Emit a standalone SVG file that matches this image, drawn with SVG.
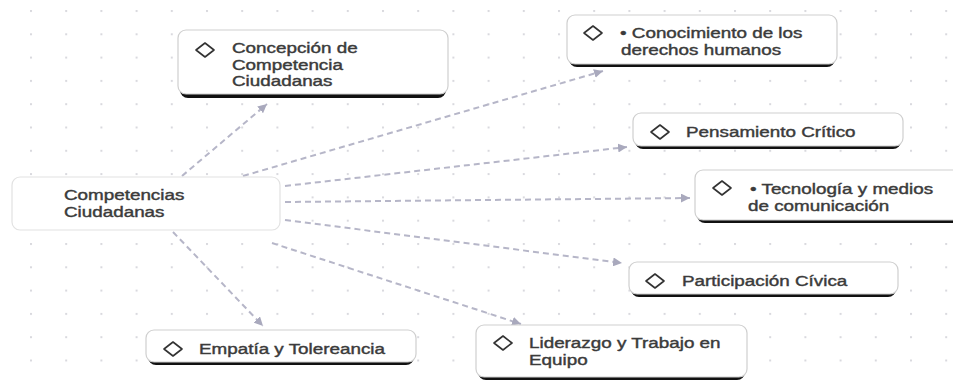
<svg xmlns="http://www.w3.org/2000/svg" width="953" height="381" viewBox="0 0 953 381">
  <defs>
    <pattern id="grid" x="30" y="10" width="35.2" height="23.3" patternUnits="userSpaceOnUse">
      <rect x="0" y="0" width="2" height="2" fill="#d9d9de"/>
    </pattern>
    <marker id="arrow" viewBox="0 0 8 8" refX="8" refY="4" markerWidth="9" markerHeight="9" markerUnits="userSpaceOnUse" orient="auto">
      <path d="M0,0 L8,4 L0,8 z" fill="#a9a9bd"/>
    </marker>
    <polygon id="diamond" points="-9,0 0,-7 9,0 0,7" fill="none" stroke="#333" stroke-width="1.6" stroke-linejoin="round"/>
  </defs>
  <style>
    .box { fill: #ffffff; stroke: #cfcfcf; stroke-width: 1.2; }
    .shadow { fill: #111111; }
    .main { fill: #ffffff; stroke: #e2e2e2; stroke-width: 1.2; }
    .lbl { font-family: "Liberation Sans", Arial, sans-serif; font-size: 14.5px; font-weight: normal; fill: #3b3b3b; stroke: #3b3b3b; stroke-width: 0.4px; }
    .conn { fill: none; stroke: #b6b6c8; stroke-width: 2; stroke-dasharray: 6 4; }
  </style>
  <rect x="0" y="0" width="953" height="381" fill="#ffffff"/>
  <rect x="0" y="0" width="953" height="381" fill="url(#grid)"/>

  <g id="connectors">
    <line class="conn" x1="182" y1="176" x2="267" y2="104" marker-end="url(#arrow)"/>
    <line class="conn" x1="243" y1="176" x2="603" y2="71" marker-end="url(#arrow)"/>
    <line class="conn" x1="285" y1="186" x2="627" y2="147" marker-end="url(#arrow)"/>
    <line class="conn" x1="285" y1="202" x2="690" y2="198" marker-end="url(#arrow)"/>
    <line class="conn" x1="285" y1="220" x2="622" y2="263" marker-end="url(#arrow)"/>
    <line class="conn" x1="272" y1="243" x2="521" y2="324" marker-end="url(#arrow)"/>
    <line class="conn" x1="173" y1="232" x2="263" y2="326" marker-end="url(#arrow)"/>
  </g>

  <g id="node-central">
    <rect class="main" x="12" y="177" width="268" height="53" rx="8"/>
    <text class="lbl" transform="translate(64,200) scale(1.3,1)">Competencias</text>
    <text class="lbl" transform="translate(64,217) scale(1.3,1)">Ciudadanas</text>
  </g>

  <g id="node-concepcion">
    <rect class="shadow" x="180" y="33" width="266" height="65" rx="8"/>
    <rect class="box" x="178" y="30" width="270" height="64" rx="8"/>
    <use href="#diamond" x="205" y="50"/>
    <text class="lbl" transform="translate(232,53) scale(1.3,1)">Concepción de</text>
    <text class="lbl" transform="translate(232,69.5) scale(1.3,1)">Competencia</text>
    <text class="lbl" transform="translate(232,86) scale(1.3,1)">Ciudadanas</text>
  </g>

  <g id="node-conocimiento">
    <rect class="shadow" x="569" y="18" width="266" height="49" rx="8"/>
    <rect class="box" x="567" y="15" width="270" height="49" rx="8"/>
    <use href="#diamond" x="593" y="33"/>
    <text class="lbl" transform="translate(620,38) scale(1.3,1)">• Conocimiento de los</text>
    <text class="lbl" transform="translate(621,54.5) scale(1.3,1)">derechos humanos</text>
  </g>

  <g id="node-pensamiento">
    <rect class="shadow" x="635" y="116" width="266" height="33" rx="8"/>
    <rect class="box" x="633" y="113" width="270" height="33" rx="8"/>
    <use href="#diamond" x="660" y="132"/>
    <text class="lbl" transform="translate(686,137) scale(1.3,1)">Pensamiento Crítico</text>
  </g>

  <g id="node-tecnologia">
    <rect class="shadow" x="697" y="173" width="266" height="50" rx="8"/>
    <rect class="box" x="695" y="170" width="270" height="50" rx="8"/>
    <use href="#diamond" x="722" y="188"/>
    <text class="lbl" transform="translate(750,194) scale(1.3,1)">• Tecnología y medios</text>
    <text class="lbl" transform="translate(748,210.5) scale(1.3,1)">de comunicación</text>
  </g>

  <g id="node-participacion">
    <rect class="shadow" x="631" y="265" width="265" height="32" rx="8"/>
    <rect class="box" x="629" y="262" width="269" height="32" rx="8"/>
    <use href="#diamond" x="655" y="281"/>
    <text class="lbl" transform="translate(682,286) scale(1.3,1)">Participación Cívica</text>
  </g>

  <g id="node-empatia">
    <rect class="shadow" x="148" y="333" width="266" height="32" rx="8"/>
    <rect class="box" x="146" y="330" width="270" height="32" rx="8"/>
    <use href="#diamond" x="173" y="349"/>
    <text class="lbl" transform="translate(199,354) scale(1.3,1)">Empatía y Tolereancia</text>
  </g>

  <g id="node-liderazgo">
    <rect class="shadow" x="478" y="328" width="267" height="52" rx="8"/>
    <rect class="box" x="476" y="325" width="271" height="52" rx="8"/>
    <use href="#diamond" x="503" y="343"/>
    <text class="lbl" transform="translate(529,348) scale(1.3,1)">Liderazgo y Trabajo en</text>
    <text class="lbl" transform="translate(529,365) scale(1.3,1)">Equipo</text>
  </g>
</svg>
